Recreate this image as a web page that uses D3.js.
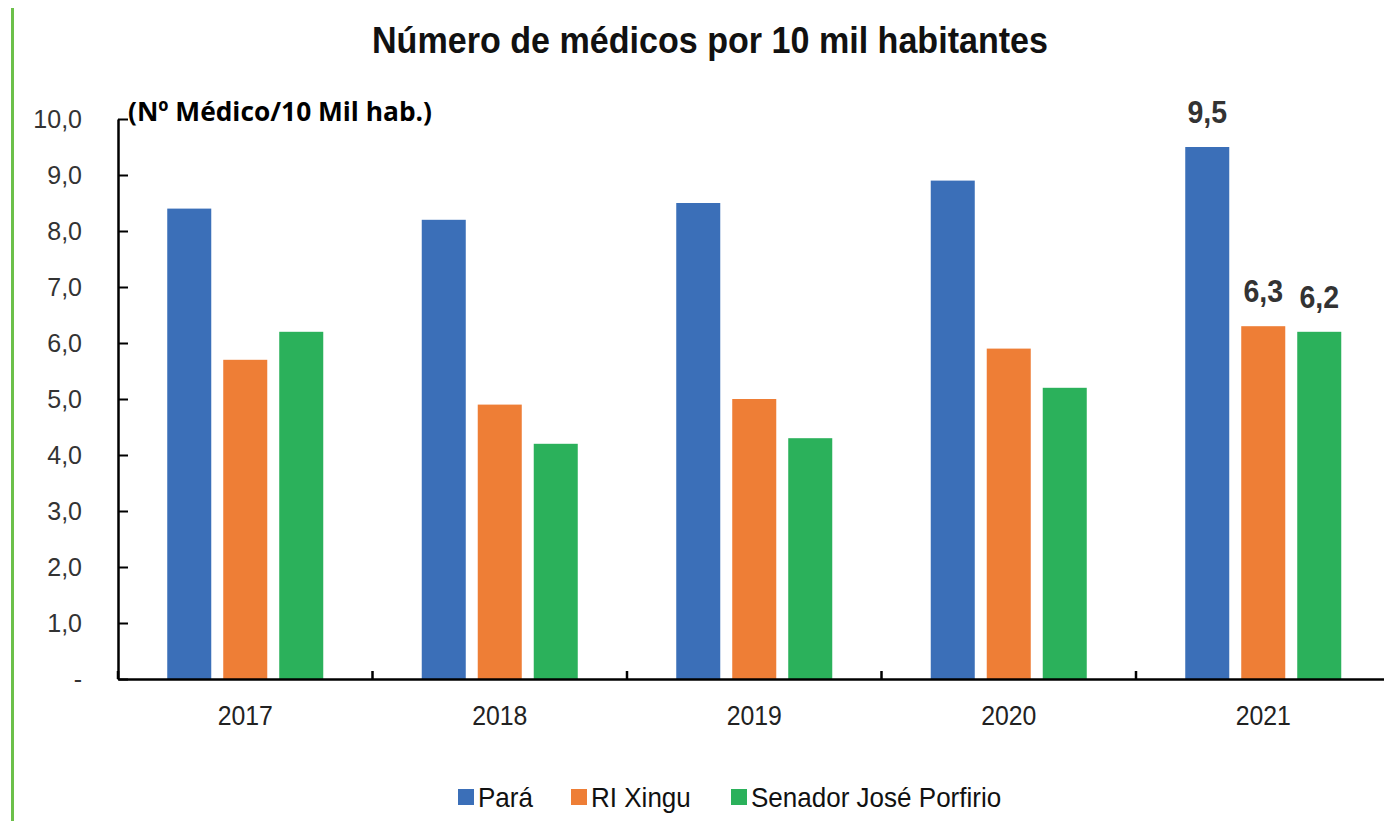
<!DOCTYPE html>
<html>
<head>
<meta charset="utf-8">
<script src="https://cdn.jsdelivr.net/npm/d3@7"></script>
<style>
  html, body { margin: 0; padding: 0; background: #fff; }
  svg { display: block; }
</style>
</head>
<body>
<script>
const years = ["2017", "2018", "2019", "2020", "2021"];
const seriesNames = ["Pará", "RI Xingu", "Senador José Porfirio"];
const para = [8.4, 8.2, 8.5, 8.9, 9.5];
const riXingu = [5.7, 4.9, 5.0, 5.9, 6.3];
const senador = [6.2, 4.2, 4.3, 5.2, 6.2];
const colors = ["#3B6FB8", "#EE7E36", "#2BB15B"];
const yTicks = [0, 1, 2, 3, 4, 5, 6, 7, 8, 9, 10];
const labelledYear = "2021";
const titleText = "Número de médicos por 10 mil habitantes";
const unitText = "(Nº Médico/10 Mil hab.)";

const seriesValues = [para, riXingu, senador];

const W = 1384, H = 821;
const FONT = "Liberation Sans, Arial, sans-serif";
const svg = d3.select("body").append("svg").attr("width", W).attr("height", H);

// left green rule
svg.append("rect").attr("x", 11).attr("y", 8).attr("width", 3).attr("height", H - 8).attr("fill", "#6CC04A");

const plotLeft = 118, plotBottom = 679, plotTop = 119;
const step = 254.5;
const x0 = d3.scaleBand().domain(years).range([plotLeft, plotLeft + step * years.length])
  .paddingInner(0.387).paddingOuter(0.1935);
const x1 = d3.scaleBand().domain(seriesNames).range([0, x0.bandwidth()])
  .paddingInner(0.214).paddingOuter(0);
const y = d3.scaleLinear().domain([0, 10]).range([plotBottom, plotTop]);
const color = d3.scaleOrdinal().domain(seriesNames).range(colors);

// title
svg.append("text").attr("x", 372).attr("y", 53)
  .attr("font-family", FONT).attr("font-weight", "bold")
  .attr("font-size", 37).attr("fill", "#111")
  .attr("textLength", 676).attr("lengthAdjust", "spacingAndGlyphs")
  .text(titleText);

// bars
const groups = svg.append("g").selectAll("g").data(years).join("g")
  .attr("transform", d => `translate(${x0(d)},0)`);
groups.selectAll("rect").data((d, i) => seriesNames.map((s, j) => ({ s, v: seriesValues[j][i], year: d })))
  .join("rect")
  .attr("x", d => x1(d.s)).attr("width", x1.bandwidth())
  .attr("y", d => y(d.v)).attr("height", d => y(0) - y(d.v))
  .attr("fill", d => color(d.s));

// value labels for 2021
const fmt = v => d3.format(".1f")(v).replace(".", ",");
const li = years.indexOf(labelledYear);
svg.append("g").selectAll("text").data(seriesNames.map((s, j) => ({ s, v: seriesValues[j][li] })))
  .join("text")
  .attr("transform", d => `translate(${x0(labelledYear) + x1(d.s) + x1.bandwidth() / 2},${y(d.v) - 24}) scale(0.92,1)`)
  .attr("text-anchor", "middle")
  .attr("font-family", FONT).attr("font-weight", "bold")
  .attr("font-size", 31).attr("fill", "#333")
  .text(d => fmt(d.v));

// y axis
const yAxis = d3.axisLeft(y).tickValues(yTicks)
  .tickFormat(v => v === 0 ? "-" : fmt(v))
  .tickSizeInner(-10).tickSizeOuter(0).tickPadding(36);
const gy = svg.append("g").attr("transform", `translate(${plotLeft},0)`).call(yAxis);
gy.select(".domain").attr("stroke", "#000").attr("stroke-width", 2.5);
gy.selectAll(".tick line").attr("stroke", "#000").attr("stroke-width", 2);
gy.selectAll(".tick text").attr("font-family", FONT)
  .attr("font-size", 25).attr("fill", "#333");

// x axis
const xAxis = d3.axisBottom(x0).tickSize(0).tickPadding(27);
const gx = svg.append("g").attr("transform", `translate(0,${plotBottom})`).call(xAxis);
gx.select(".domain").attr("stroke", "#000").attr("stroke-width", 2.5);
gx.selectAll(".tick text").attr("font-family", FONT)
  .attr("font-size", 27).attr("fill", "#222")
  .attr("transform", "scale(0.92,1)")
  .attr("x", 0);
// category boundary ticks
const half = x0.step() * x0.paddingInner() / 2;
const bounds = years.map(d => x0(d) - half);
gx.append("g").selectAll("line").data(bounds).join("line")
  .attr("x1", d => d).attr("x2", d => d).attr("y1", 0).attr("y2", -8)
  .attr("stroke", "#000").attr("stroke-width", 2.5);

// unit label
svg.append("text").attr("x", 128).attr("y", 121)
  .attr("font-family", "Open Sans, sans-serif").attr("font-weight", "bold")
  .attr("font-size", 27).attr("fill", "#000")
  .attr("textLength", 304).attr("lengthAdjust", "spacingAndGlyphs")
  .text(unitText);

// legend
const legendItems = [
  { s: seriesNames[0], x: 458 },
  { s: seriesNames[1], x: 571 },
  { s: seriesNames[2], x: 731 }
];
const lg = svg.append("g").selectAll("g").data(legendItems).join("g")
  .attr("transform", d => `translate(${d.x},789)`);
lg.append("rect").attr("width", 16).attr("height", 16).attr("fill", d => color(d.s));
lg.append("text").attr("transform", "translate(20,18) scale(0.93,1)")
  .attr("font-family", FONT)
  .attr("font-size", 28).attr("fill", "#111").text(d => d.s);
</script>
</body>
</html>
